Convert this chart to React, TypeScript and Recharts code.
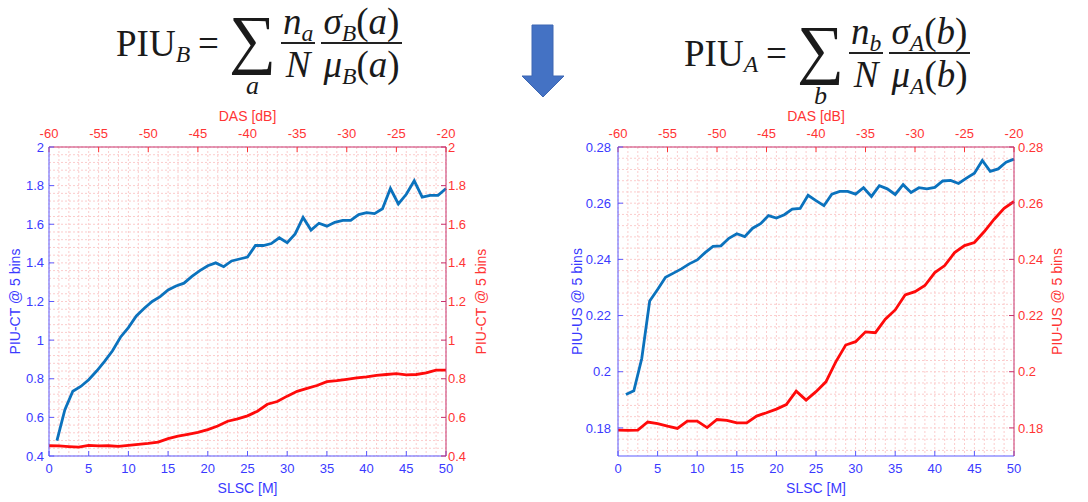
import React from "react";
import { LineChart, Line, XAxis, YAxis, CartesianGrid } from "recharts";

// SLSC [M] axis (blue curves) and DAS [dB] axis (red curves)
const slsc = [
  1, 2, 3, 4, 5, 6, 7, 8, 9, 10, 11, 12, 13, 14, 15, 16, 17, 18, 19, 20, 21, 22, 23, 24, 25,
  26, 27, 28, 29, 30, 31, 32, 33, 34, 35, 36, 37, 38, 39, 40, 41, 42, 43, 44, 45, 46, 47, 48, 49, 50,
];
const das = [
  -60, -59, -58, -57, -56, -55, -54, -53, -52, -51, -50, -49, -48, -47, -46, -45, -44, -43, -42, -41,
  -40, -39, -38, -37, -36, -35, -34, -33, -32, -31, -30, -29, -28, -27, -26, -25, -24, -23, -22, -21, -20,
];

// PIU-CT
const ctSlsc = [
  0.48, 0.64, 0.735, 0.76, 0.795, 0.84, 0.89, 0.945, 1.015, 1.065, 1.125, 1.165, 1.2, 1.225, 1.26,
  1.28, 1.295, 1.33, 1.36, 1.385, 1.4, 1.38, 1.41, 1.42, 1.43, 1.49, 1.49, 1.5, 1.53, 1.505, 1.55,
  1.635, 1.57, 1.605, 1.59, 1.61, 1.62, 1.62, 1.65, 1.66, 1.655, 1.68, 1.785, 1.705, 1.755, 1.825,
  1.74, 1.75, 1.75, 1.785,
];
const ctDas = [
  0.453, 0.452, 0.449, 0.446, 0.455, 0.452, 0.453, 0.45, 0.455, 0.46, 0.465, 0.472, 0.49, 0.503,
  0.512, 0.522, 0.537, 0.555, 0.58, 0.592, 0.608, 0.632, 0.668, 0.682, 0.71, 0.735, 0.75, 0.765,
  0.785, 0.79, 0.797, 0.804, 0.81, 0.818, 0.822, 0.826, 0.82, 0.822, 0.83, 0.845, 0.845,
];

// PIU-US
const usSlsc = [
  0.1919, 0.1932, 0.2047, 0.2252, 0.2293, 0.2336, 0.2351, 0.2366, 0.2384, 0.2398, 0.2424, 0.2446,
  0.2448, 0.2475, 0.2491, 0.2481, 0.2511, 0.2527, 0.2556, 0.2547, 0.2559, 0.2579, 0.2581, 0.2628,
  0.2609, 0.2591, 0.2632, 0.2642, 0.2642, 0.2632, 0.2655, 0.2624, 0.2662, 0.2651, 0.2631, 0.2666,
  0.2638, 0.2655, 0.2651, 0.2656, 0.2679, 0.2681, 0.267, 0.2689, 0.2707, 0.2752, 0.2713, 0.2722,
  0.2746, 0.2757,
];
const usDas = [
  0.1792, 0.1791, 0.1792, 0.1821, 0.1815, 0.1806, 0.1798, 0.1824, 0.1824, 0.1801, 0.183, 0.1827,
  0.1818, 0.1818, 0.1842, 0.1854, 0.1867, 0.1883, 0.1931, 0.1899, 0.1929, 0.1964, 0.2035, 0.2095,
  0.2107, 0.2142, 0.2139, 0.2187, 0.222, 0.2273, 0.2285, 0.2307, 0.2353, 0.2378, 0.2424, 0.2449,
  0.246, 0.2499, 0.2543, 0.2582, 0.2606,
];

const slscTicks = [0, 5, 10, 15, 20, 25, 30, 35, 40, 45, 50];
const dasTicks = [-60, -55, -50, -45, -40, -35, -30, -25, -20];
const ctTicks = [0.4, 0.6, 0.8, 1, 1.2, 1.4, 1.6, 1.8, 2];
const usTicks = [0.18, 0.2, 0.22, 0.24, 0.26, 0.28];

// minor grid (dotted)
const ctGrid = Array.from({ length: 41 }, (_, i) => +(0.4 + i * 0.04).toFixed(3));
const usGrid = Array.from({ length: 28 }, (_, i) => +(0.172 + i * 0.004).toFixed(3));

const SANS = '"Liberation Sans", Arial, sans-serif';
const SERIF = '"Liberation Serif", "Times New Roman", serif';
const BLUE_TXT = "#3a3aff";
const BLUE_AX = "#5a5aff";
const RED_TXT = "#ff3434";
const RED_AX = "#c8346e";
const GRID = "#fbcccc";

function AxisTitle(props: any) {
  const { viewBox, text, color, ox, oy, vertical } = props;
  if (!viewBox) return null;
  const { x, y, width, height } = viewBox;
  const cx = vertical ? x + ox : x + width / 2;
  const cy = vertical ? y + height / 2 : y + oy;
  return (
    <text
      x={cx}
      y={cy}
      transform={vertical ? `rotate(-90 ${cx} ${cy})` : undefined}
      textAnchor="middle"
      dominantBaseline="central"
      fill={color}
      fontSize={14}
    >
      {text}
    </text>
  );
}

function PiuChart(props: any) {
  const { left, blue, red, yDomain, yTicks, yGrid, yLabel, g } = props;
  const blueData = slsc.map((x, i) => ({ x, v: blue[i] }));
  const redData = das.map((x, i) => ({ x, v: red[i] }));
  return (
    <div style={{ position: "absolute", left, top: 100, fontFamily: SANS }}>
      <LineChart width={544} height={400} margin={{ top: 0, right: g.mr, bottom: 0, left: 0 }}>
        <CartesianGrid
          xAxisId="das"
          yAxisId="l"
          verticalValues={das}
          horizontalValues={yGrid}
          stroke={GRID}
          strokeDasharray="2 2"
        />
        <XAxis
          xAxisId="slsc"
          type="number"
          dataKey="x"
          domain={[0, 50]}
          ticks={slscTicks}
          interval={0}
          height={44}
          axisLine={{ stroke: BLUE_AX }}
          tickLine={{ stroke: BLUE_AX }}
          tickSize={-5}
          tickMargin={13}
          tick={{ fill: BLUE_TXT, fontSize: 13 }}
          label={<AxisTitle text="SLSC [M]" color={BLUE_TXT} oy={32} />}
        />
        <XAxis
          xAxisId="das"
          orientation="top"
          type="number"
          dataKey="x"
          domain={[-60, -20]}
          ticks={dasTicks}
          interval={0}
          height={47}
          axisLine={{ stroke: RED_AX }}
          tickLine={{ stroke: RED_TXT }}
          tickSize={-5}
          tickMargin={14}
          tick={{ fill: RED_TXT, fontSize: 13 }}
          label={<AxisTitle text="DAS [dB]" color={RED_TXT} oy={16} />}
        />
        <XAxis
          xAxisId="slscTop"
          orientation="top"
          mirror
          type="number"
          domain={[0, 50]}
          ticks={slscTicks}
          interval={0}
          axisLine={false}
          tickLine={{ stroke: BLUE_AX }}
          tickSize={5}
          tick={() => <g />}
        />
        <YAxis
          yAxisId="l"
          type="number"
          domain={yDomain}
          ticks={yTicks}
          interval={0}
          width={g.yl}
          axisLine={{ stroke: BLUE_AX }}
          tickLine={{ stroke: BLUE_AX }}
          tickSize={-5}
          tickMargin={g.tl}
          tick={{ fill: BLUE_TXT, fontSize: 13 }}
          label={<AxisTitle text={yLabel} color={BLUE_TXT} ox={g.ol} vertical />}
        />
        <YAxis
          yAxisId="r"
          orientation="right"
          type="number"
          domain={yDomain}
          ticks={yTicks}
          interval={0}
          width={g.yr}
          axisLine={{ stroke: RED_AX }}
          tickLine={{ stroke: RED_AX }}
          tickSize={-5}
          tickMargin={g.tr}
          tick={{ fill: RED_TXT, fontSize: 13 }}
          label={<AxisTitle text={yLabel} color={RED_TXT} ox={g.or} vertical />}
        />
        <Line
          xAxisId="slsc"
          yAxisId="l"
          data={blueData}
          dataKey="v"
          type="linear"
          stroke="#0b72bd"
          strokeWidth={2.8}
          dot={false}
          isAnimationActive={false}
        />
        <Line
          xAxisId="das"
          yAxisId="r"
          data={redData}
          dataKey="v"
          type="linear"
          stroke="#ff0a0a"
          strokeWidth={2.8}
          dot={false}
          isAnimationActive={false}
        />
      </LineChart>
    </div>
  );
}

function Frac({ num, den }: any) {
  return (
    <span style={{ display: "inline-flex", flexDirection: "column", alignItems: "stretch", margin: "0 3px" }}>
      <span style={{ padding: "0 2px 2px", textAlign: "center" }}>{num}</span>
      <span style={{ borderTop: "2px solid #222", padding: "2px 2px 0", textAlign: "center" }}>{den}</span>
    </span>
  );
}

function Formula({ sub, idx, left, top }: any) {
  const s = (t: string) => (
    <span style={{ fontStyle: "italic", fontSize: "0.64em", position: "relative", top: "0.28em" }}>{t}</span>
  );
  return (
    <div
      style={{
        position: "absolute",
        left,
        top,
        display: "flex",
        alignItems: "center",
        fontFamily: SERIF,
        fontSize: 37,
        lineHeight: 1,
        color: "#1a1a1a",
        whiteSpace: "nowrap",
      }}
    >
      <span>PIU{s(sub)}</span>
      <span style={{ margin: "0 8px" }}>=</span>
      <span style={{ position: "relative", fontSize: 66, lineHeight: 0.8, margin: "0 2px 0 2px", top: -4 }}>
        ∑
        <span
          style={{
            position: "absolute",
            left: 0,
            right: 0,
            top: 64,
            textAlign: "center",
            fontStyle: "italic",
            fontSize: 26,
            lineHeight: 0.7,
          }}
        >
          {idx}
        </span>
      </span>
      <Frac num={<><i>n</i>{s(idx)}</>} den={<i>N</i>} />
      <Frac
        num={<><i>σ</i>{s(sub)}(<i>{idx}</i>)</>}
        den={<><i>μ</i>{s(sub)}(<i>{idx}</i>)</>}
      />
    </div>
  );
}

export default function App() {
  return (
    <div style={{ position: "absolute", left: 0, top: 0, width: 1088, height: 502, background: "#fff", overflow: "hidden" }}>
      <Formula sub="B" idx="a" left={116} top={3} />
      <Formula sub="A" idx="b" left={684} top={13} />
      <svg width={1088} height={110} style={{ position: "absolute", left: 0, top: 0 }}>
        <polygon
          points="532,25 553,25 553,76 564,76 543,97 522,76 532,76"
          fill="#4472c4"
          stroke="#3d67b3"
          strokeWidth={1}
        />
      </svg>
      <PiuChart
        left={0}
        blue={ctSlsc}
        red={ctDas}
        yDomain={[0.4, 2]}
        yTicks={ctTicks}
        yGrid={ctGrid}
        yLabel="PIU-CT @ 5 bins"
        g={{ mr: 38, yl: 49, yr: 60, tl: 10, tr: 7, ol: 15, or: 35 }}
      />
      <PiuChart
        left={544}
        blue={usSlsc}
        red={usDas}
        yDomain={[0.17, 0.28]}
        yTicks={usTicks}
        yGrid={usGrid}
        yLabel="PIU-US @ 5 bins"
        g={{ mr: 0, yl: 74, yr: 74, tl: 12, tr: 9, ol: 33, or: 43 }}
      />
    </div>
  );
}
